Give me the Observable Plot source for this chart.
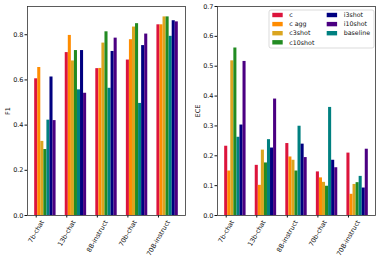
<!DOCTYPE html>
<html><head><meta charset="utf-8">
<script src="https://cdn.jsdelivr.net/npm/d3@7"></script>
<script src="https://cdn.jsdelivr.net/npm/@observablehq/plot@0.6"></script>
<style>
body{margin:0;background:#fff;}
#wrap{position:relative;width:381px;height:260px;overflow:hidden;}
#wrap svg{position:absolute;top:0;}
</style></head><body><div id="wrap"></div>
<script>
const models = ["7b-chat", "13b-chat", "8B-instruct", "70b-chat", "70B-instruct"];
const series = ["c", "c agg", "c3shot", "c10shot", "baseline", "i3shot", "i10shot"];
const colors = ["#DC143C", "#FF8C00", "#DAA520", "#228B22", "#008080", "#000080", "#4B0082"];
const legendOrder = ["c", "c agg", "c3shot", "c10shot", "i3shot", "i10shot", "baseline"];

// F1 values per series (in model order)
const f1_c        = [0.605, 0.721, 0.650, 0.688, 0.844];
const f1_cagg     = [0.655, 0.797, 0.651, 0.778, 0.844];
const f1_c3shot   = [0.328, 0.684, 0.763, 0.834, 0.879];
const f1_c10shot  = [0.292, 0.730, 0.813, 0.849, 0.879];
const f1_baseline = [0.422, 0.556, 0.563, 0.496, 0.793];
const f1_i3shot   = [0.613, 0.730, 0.726, 0.752, 0.862];
const f1_i10shot  = [0.420, 0.541, 0.785, 0.803, 0.857];

// ECE values per series (in model order)
const ece_c        = [0.232, 0.168, 0.241, 0.146, 0.209];
const ece_cagg     = [0.149, 0.101, 0.196, 0.126, 0.071];
const ece_c3shot   = [0.518, 0.219, 0.185, 0.111, 0.104];
const ece_c10shot  = [0.561, 0.176, 0.149, 0.098, 0.110];
const ece_baseline = [0.262, 0.254, 0.299, 0.362, 0.131];
const ece_i3shot   = [0.303, 0.226, 0.239, 0.185, 0.092];
const ece_i10shot  = [0.516, 0.390, 0.194, 0.160, 0.222];

const f1 = [f1_c, f1_cagg, f1_c3shot, f1_c10shot, f1_baseline, f1_i3shot, f1_i10shot];
const ece = [ece_c, ece_cagg, ece_c3shot, ece_c10shot, ece_baseline, ece_i3shot, ece_i10shot];

const FONT = "DejaVu Sans";
const FS = 6.5;
const BW = 0.1;

const ctx = document.createElement("canvas").getContext("2d");
ctx.font = `${FS}px "${FONT}"`;

function rows(vals) {
  const out = [];
  series.forEach((s, si) => {
    models.forEach((m, gi) => {
      out.push({model: m, series: s, gi, si, x1: gi + si * BW - BW / 2, x2: gi + si * BW + BW / 2, value: vals[si][gi]});
    });
  });
  return out;
}

function panel(vals, yDomain, yTicks, ylabel, width) {
  const data = rows(vals);
  const labelMarks = models.map((m, gi) => {
    const L = ctx.measureText(m).width;
    const ext = L * Math.sin(Math.PI / 3) + FS * 0.75 * Math.cos(Math.PI / 3);
    return Plot.text([m], {
      x: () => gi, y: () => 0, text: d => d, rotate: -60,
      textAnchor: "middle", lineAnchor: "middle", dy: 4 + ext / 2,
      fontSize: FS, fill: "#111"
    });
  });
  return Plot.plot({
    width, height: 260,
    marginLeft: 27, marginRight: width - 185, marginTop: 6, marginBottom: 45,
    style: {fontFamily: FONT, fontSize: FS + "px", color: "#111", background: "#fff", overflow: "visible"},
    x: {domain: [-0.285, 4.885], axis: null},
    y: {domain: yDomain, axis: null},
    color: {domain: series, range: colors},
    marks: [
      Plot.rectY(data, {x1: "x1", x2: "x2", y1: 0, y2: "value", fill: "series", insetLeft: 0, insetRight: 0}),
      Plot.axisY({ticks: yTicks, tickFormat: d3.format(".1f"), tickSize: 2.5, tickPadding: 1.5,
        label: ylabel, labelAnchor: "center", labelArrow: "none", labelOffset: 22, fontSize: FS}),
      Plot.axisX({ticks: d3.range(models.length), tickSize: 2.5, tickFormat: () => "", label: null}),
      ...labelMarks,
      Plot.frame({stroke: "#333", strokeWidth: 0.8})
    ]
  });
}

const wrap = document.getElementById("wrap");
const left = panel(f1, [0, 0.925], [0, 0.2, 0.4, 0.6, 0.8], "F1", 190);
left.style.left = "0px";
wrap.appendChild(left);

const right = panel(ece, [0, 0.7], d3.range(0, 0.71, 0.1), "ECE", 191);
right.style.left = "190px";
wrap.appendChild(right);

// legend (two columns, column-major like matplotlib ncol=2)
const svg = d3.select(right);
const lg = svg.append("g").attr("font-family", FONT).attr("font-size", "6.3px").attr("text-anchor", "start");
lg.append("rect").attr("x", 79).attr("y", 10).attr("width", 105).attr("height", 38)
  .attr("rx", 2).attr("fill", "#fff").attr("fill-opacity", 0.8).attr("stroke", "#ccc").attr("stroke-width", 0.7);
legendOrder.forEach((s, i) => {
  const col = i < 4 ? 0 : 1;
  const row = i < 4 ? i : i - 4;
  const px = col === 0 ? 82.3 : 136.7;
  const cy = 15 + row * 9.1;
  lg.append("rect").attr("x", px).attr("y", cy - 2.2).attr("width", 10.4).attr("height", 4.4)
    .attr("fill", colors[series.indexOf(s)]);
  lg.append("text").attr("x", px + 17).attr("y", cy).attr("dy", "0.35em").attr("fill", "#111")
    .attr("text-anchor", "start").text(s);
});
</script>
</body></html>
